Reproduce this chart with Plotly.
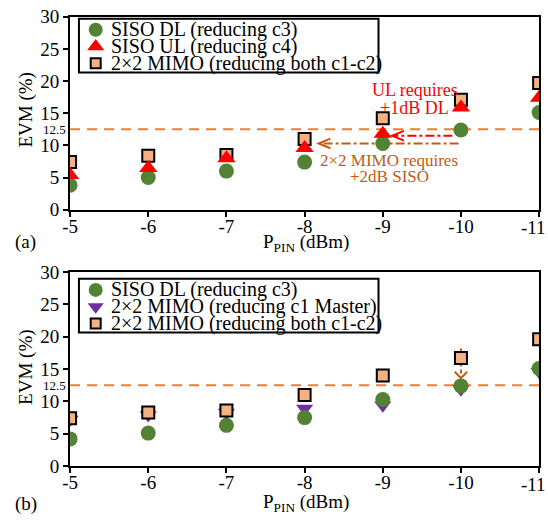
import plotly.graph_objects as go

# ---------------- data ----------------
x_vals = [-5, -6, -7, -8, -9, -10, -11]
x_ticks = [-5, -6, -7, -8, -9, -10, -11]
y_ticks = [0, 5, 10, 15, 20, 25, 30]

# panel (a)
a_siso_dl = [3.8, 5.0, 6.0, 7.4, 10.3, 12.4, 15.1]
a_siso_ul = [5.4, 6.5, 8.0, 9.6, 11.8, 15.9, 17.4]
a_mimo_both = [7.4, 8.4, 8.5, 11.0, 14.2, 17.1, 19.7]

# panel (b)
b_siso_dl = [4.2, 5.1, 6.3, 7.5, 10.3, 12.4, 15.1]
b_mimo_c1 = [7.2, 7.9, 8.3, 8.9, 9.4, 11.9, 14.6]
b_mimo_both = [7.4, 8.3, 8.6, 11.0, 14.0, 16.7, 19.6]

threshold = 12.5

a_legend_labels = ["SISO DL (reducing c3)", "SISO UL (reducing c4)", "2×2 MIMO (reducing both c1-c2)"]
b_legend_labels = ["SISO DL (reducing c3)", "2×2 MIMO (reducing c1 Master)", "2×2 MIMO (reducing both c1-c2)"]

# annotation arrows (data coordinates)
ul_arrow = {"x0": -9.89, "x1": -9.12, "y": 11.5}
mimo_arrow = {"x0": -9.97, "x1": -8.18, "y": 10.3}
b_arrow = {"x": -10, "y0": 18.2, "y1": 13.6}

# ---------------- style ----------------
FONT = "Liberation Serif"
GREEN = "#548235"
RED = "#FF0000"
PEACH = "#F4B183"
PURPLE = "#7030A0"
ORANGE = "#ED7D31"
DARKOR = "#C55A11"

W, H = 548, 527
fig = go.Figure()

circle = dict(symbol="circle", size=15, color=GREEN)
tri_up = dict(symbol="triangle-up", size=16, color=RED)
square = dict(symbol="square", size=12, color=PEACH, line=dict(color="black", width=2))
tri_dn = dict(symbol="triangle-down", size=15, color=PURPLE)

# panel (a) traces
fig.add_trace(go.Scatter(x=x_vals, y=a_mimo_both, mode="markers", marker=square,
                         name=a_legend_labels[2], showlegend=False, xaxis="x", yaxis="y"))
fig.add_trace(go.Scatter(x=x_vals, y=a_siso_dl, mode="markers", marker=circle,
                         name=a_legend_labels[0], showlegend=False, xaxis="x", yaxis="y"))
fig.add_trace(go.Scatter(x=x_vals, y=a_siso_ul, mode="markers", marker=tri_up,
                         name=a_legend_labels[1], showlegend=False, xaxis="x", yaxis="y"))

# panel (b) traces
fig.add_trace(go.Scatter(x=x_vals, y=b_mimo_c1, mode="markers", marker=tri_dn,
                         name=b_legend_labels[1], showlegend=False, xaxis="x2", yaxis="y2"))
fig.add_trace(go.Scatter(x=x_vals, y=b_siso_dl, mode="markers", marker=circle,
                         name=b_legend_labels[0], showlegend=False, xaxis="x2", yaxis="y2"))
fig.add_trace(go.Scatter(x=x_vals, y=b_mimo_both, mode="markers", marker=square,
                         name=b_legend_labels[2], showlegend=False, xaxis="x2", yaxis="y2"))

xdom = [63 / W, 539 / W]
ydom_a = [(H - 208) / H, (H - 7) / H]
ydom_b = [(H - 475) / H, (H - 273) / H]

# the last tick label would overflow the page, so it is drawn as a right-aligned annotation
x_ticktext = [str(v) for v in x_ticks[:-1]] + [""]

def xaxis(dom, anchor):
    return dict(domain=dom, anchor=anchor, range=[-5, -11], tickvals=x_ticks,
                ticktext=x_ticktext, showline=True, linecolor="black",
                linewidth=2, mirror=True, ticks="outside", ticklen=5, tickwidth=2,
                tickcolor="black", showgrid=False, zeroline=False,
                ticklabelstandoff=-7,
                tickfont=dict(family=FONT, size=19, color="black"))

def yaxis(dom, anchor):
    return dict(domain=dom, anchor=anchor, range=[0, 30], tickvals=y_ticks,
                showline=True, linecolor="black", linewidth=2, mirror=True,
                ticks="outside", ticklen=5, tickwidth=2, tickcolor="black",
                showgrid=False, zeroline=False,
                tickfont=dict(family=FONT, size=19, color="black"))

shapes = []
annotations = []

def txt(x, y, s, color, size, xr="x", yr="y", xanchor="center", yanchor="middle", **kw):
    return dict(xref=xr, yref=yr, x=x, y=y, text=s, showarrow=False,
                xanchor=xanchor, yanchor=yanchor,
                font=dict(family=FONT, size=size, color=color), **kw)

for xr, yr, base in (("x", "y", 208), ("x2", "y2", 475)):
    shapes.append(dict(type="line", xref=xr, yref=yr, x0=-5, x1=-11, y0=threshold, y1=threshold,
                       line=dict(color=ORANGE, width=2, dash="10px,7px"), layer="below"))
    annotations.append(txt(61 / W, threshold, str(threshold), "black", 13, "paper", yr,
                           xanchor="right"))
    annotations.append(txt(1, (H - base - 19) / H, str(x_ticks[-1]), "black", 19,
                           "paper", "paper", xanchor="right"))

# arrows panel (a)
dxh, dyh = 0.15, 0.75
shapes.append(dict(type="line", xref="x", yref="y", x0=ul_arrow["x0"], x1=ul_arrow["x1"],
                   y0=ul_arrow["y"], y1=ul_arrow["y"], line=dict(color=RED, width=2, dash="dashdot"),
                   layer="below"))
shapes.append(dict(type="path", xref="x", yref="y",
                   path=f"M {ul_arrow['x1'] - dxh},{ul_arrow['y'] + dyh} L {ul_arrow['x1']},{ul_arrow['y']} "
                        f"L {ul_arrow['x1'] - dxh},{ul_arrow['y'] - dyh}",
                   line=dict(color=RED, width=2), layer="below"))
shapes.append(dict(type="line", xref="x", yref="y", x0=mimo_arrow["x0"], x1=mimo_arrow["x1"],
                   y0=mimo_arrow["y"], y1=mimo_arrow["y"], line=dict(color=DARKOR, width=2, dash="dashdot"),
                   layer="below"))
shapes.append(dict(type="path", xref="x", yref="y",
                   path=f"M {mimo_arrow['x1'] - dxh},{mimo_arrow['y'] + dyh} L {mimo_arrow['x1']},{mimo_arrow['y']} "
                        f"L {mimo_arrow['x1'] - dxh},{mimo_arrow['y'] - dyh}",
                   line=dict(color=DARKOR, width=2), layer="below"))
# arrow panel (b)
shapes.append(dict(type="line", xref="x2", yref="y2", x0=b_arrow["x"], x1=b_arrow["x"],
                   y0=b_arrow["y0"], y1=b_arrow["y1"], line=dict(color=DARKOR, width=2, dash="4px,3px"),
                   layer="below"))
shapes.append(dict(type="path", xref="x2", yref="y2",
                   path=f"M {b_arrow['x'] - 0.08},{b_arrow['y1'] + 1.0} L {b_arrow['x']},{b_arrow['y1']} "
                        f"L {b_arrow['x'] + 0.08},{b_arrow['y1'] + 1.0}",
                   line=dict(color=DARKOR, width=2), layer="below"))

annotations += [
    txt(-9.41, 18.6, "UL requires", RED, 18),
    txt(-9.41, 15.8, "+1dB DL", RED, 18),
    txt(-9.08, 7.6, "2×2 MIMO requires", DARKOR, 17),
    txt(-9.08, 5.1, "+2dB SISO", DARKOR, 17),
    txt(5 / W, (H - 242) / H, "(a)", "black", 19, "paper", "paper", xanchor="left"),
    txt(5 / W, (H - 514) / H, "(b)", "black", 19, "paper", "paper", xanchor="left"),
    txt(302 / W, (H - 243) / H, "P<sub>PIN</sub> (dBm)", "black", 19, "paper", "paper"),
    txt(302 / W, (H - 513) / H, "P<sub>PIN</sub> (dBm)", "black", 19, "paper", "paper"),
    txt(18 / W, (H - 104) / H, "EVM (%)", "black", 19, "paper", "paper", textangle=-90),
    txt(18 / W, (H - 372) / H, "EVM (%)", "black", 19, "paper", "paper", textangle=-90),
]

# ---------------- legend boxes (custom, Excel-like tight rows) ----------------
LEG_X0, LEG_X1 = 72, 376
LEG_H = 56
LEG_ROWS = [11.5, 29, 46.5]
LEG_MARK_X = 89
LEG_TEXT_X = 103
legend_specs = [
    (9, a_legend_labels, [circle, tri_up, square]),
    (280, b_legend_labels, [circle, tri_dn, square]),
]
for top, labels, markers in legend_specs:
    shapes.append(dict(type="rect", xref="paper", yref="paper",
                       x0=LEG_X0 / W, x1=LEG_X1 / W, y0=(H - top) / H, y1=(H - top - LEG_H) / H,
                       line=dict(color="black", width=2), fillcolor="white", layer="below"))
    for row, lab, mk in zip(LEG_ROWS, labels, markers):
        m = dict(mk)
        if m["symbol"] == "square":
            m["size"] = 10
        else:
            m["size"] = mk["size"] - 1
        fig.add_trace(go.Scatter(x=[LEG_MARK_X], y=[top + row], mode="markers", marker=m,
                                 showlegend=False, hoverinfo="skip", xaxis="x3", yaxis="y3"))
        annotations.append(txt(LEG_TEXT_X / W, (H - top - row) / H, lab, "black", 20,
                               "paper", "paper", xanchor="left"))

fig.update_layout(
    width=W, height=H, margin=dict(l=0, r=0, t=0, b=0),
    paper_bgcolor="white", plot_bgcolor="rgba(0,0,0,0)",
    font=dict(family=FONT, size=19, color="black"),
    showlegend=False,
    xaxis=xaxis(xdom, "y"), yaxis=yaxis(ydom_a, "x"),
    xaxis2=xaxis(xdom, "y2"), yaxis2=yaxis(ydom_b, "x2"),
    xaxis3=dict(domain=[0, 1], anchor="y3", range=[0, W], visible=False, fixedrange=True),
    yaxis3=dict(domain=[0, 1], anchor="x3", range=[H, 0], visible=False, fixedrange=True),
    shapes=shapes, annotations=annotations,
)

fig.write_html("out.html", config={"displayModeBar": False})
